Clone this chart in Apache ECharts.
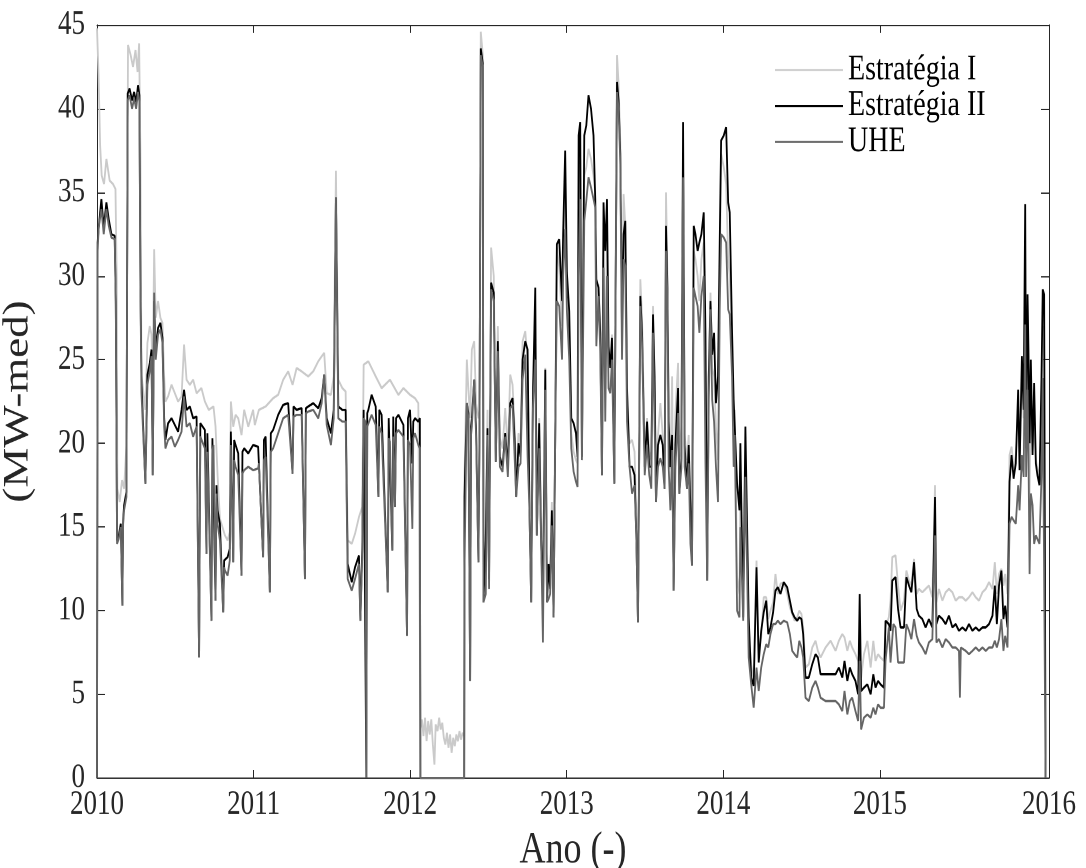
<!DOCTYPE html>
<html>
<head>
<meta charset="utf-8">
<script src="https://cdn.jsdelivr.net/npm/echarts@6/dist/echarts.min.js"></script>
<style>html,body{margin:0;padding:0;background:#fff;overflow:hidden}#c{position:absolute;left:0;top:0;width:1086px;height:694.4px;transform:scaleY(1.25);transform-origin:0 0}</style>
</head>
<body>
<div id="c"></div>
<script>
// Series names
const seriesNames = ['Estratégia I', 'Estratégia II', 'UHE'];
// x tick values (decimal year) and tick labels
const xTickValues = [2010, 2011, 2012, 2013, 2014, 2015, 2016.08];
const xTickLabels = ['2010', '2011', '2012', '2013', '2014', '2015', '2016'];
const xMin = 2010, xMax = 2016.08;
const yMin = 0, yMax = 45, yStep = 5;

// Estratégia I  [decimal year, MW-med]
const estrategiaI = [
[2010.000,44.8],[2010.010,42.0],[2010.020,37.8],[2010.030,36.0],[2010.045,35.5],[2010.060,37.0],[2010.081,35.7],[2010.102,35.5],[2010.118,35.2],[2010.126,29.8],[2010.130,17.3],[2010.145,16.5],[2010.160,17.8],[2010.173,17.3],[2010.188,19.9],[2010.198,43.8],[2010.215,43.2],[2010.230,42.5],[2010.246,43.5],[2010.259,42.2],[2010.269,43.9],[2010.277,37.5],[2010.284,24.1],[2010.294,24.0],[2010.309,22.0],[2010.322,26.0],[2010.337,27.0],[2010.348,26.5],[2010.356,24.0],[2010.365,31.6],[2010.375,27.5],[2010.390,28.5],[2010.405,27.5],[2010.418,27.2],[2010.429,24.0],[2010.437,22.5],[2010.454,22.8],[2010.476,23.5],[2010.497,23.0],[2010.518,22.5],[2010.540,22.8],[2010.556,25.9],[2010.572,23.8],[2010.593,23.5],[2010.614,23.8],[2010.636,23.0],[2010.667,23.3],[2010.689,22.5],[2010.714,22.0],[2010.744,22.2],[2010.757,21.0],[2010.770,18.1],[2010.785,15.5],[2010.817,14.5],[2010.834,14.2],[2010.848,14.7],[2010.855,22.5],[2010.870,21.0],[2010.885,21.7],[2010.902,21.5],[2010.923,20.5],[2010.940,22.0],[2010.966,21.0],[2010.997,22.0],
[2011.008,21.1],[2011.034,22.0],[2011.077,22.2],[2011.125,22.7],[2011.157,22.9],[2011.189,23.8],[2011.221,24.3],[2011.249,23.5],[2011.275,24.5],[2011.307,24.3],[2011.349,24.0],[2011.381,24.3],[2011.413,24.9],[2011.435,25.2],[2011.451,25.4],[2011.467,23.0],[2011.494,22.9],[2011.512,24.0],[2011.526,36.3],[2011.541,23.8],[2011.567,23.3],[2011.588,23.1],[2011.601,14.2],[2011.627,14.0],[2011.648,14.6],[2011.673,15.6],[2011.694,16.2],[2011.703,24.7],[2011.733,24.9],[2011.754,24.5],[2011.780,24.0],[2011.818,23.3],[2011.871,23.8],[2011.925,22.9],[2011.957,23.3],[2011.999,22.9],[2012.031,22.7],[2012.052,22.4],[2012.062,22.4],
[2012.066,3.0],[2012.075,3.5],[2012.085,2.5],[2012.095,3.6],[2012.105,2.2],[2012.115,3.4],[2012.125,2.6],[2012.135,3.5],[2012.145,2.0],[2012.155,0.8],[2012.163,3.2],[2012.175,2.8],[2012.185,3.6],[2012.195,2.9],[2012.205,3.3],[2012.215,2.4],[2012.225,2.0],[2012.235,2.7],[2012.245,1.8],[2012.255,2.6],[2012.265,1.5],[2012.275,2.4],[2012.285,1.9],[2012.295,2.6],[2012.305,2.2],[2012.315,2.8],[2012.325,2.3],[2012.335,2.7],[2012.345,2.5],
[2012.347,18.0],[2012.362,25.0],[2012.372,23.2],[2012.383,21.5],[2012.394,25.6],[2012.409,26.1],[2012.421,22.4],[2012.436,21.5],[2012.443,21.8],[2012.451,44.6],[2012.464,43.2],[2012.468,11.5],[2012.483,15.0],[2012.494,22.0],[2012.504,13.0],[2012.517,31.7],[2012.534,30.0],[2012.547,19.5],[2012.560,27.0],[2012.573,20.3],[2012.590,19.7],[2012.607,22.1],[2012.624,19.5],[2012.639,24.1],[2012.654,23.5],[2012.667,21.0],[2012.677,18.0],[2012.692,20.6],[2012.705,20.0],[2012.718,26.1],[2012.735,26.7],[2012.750,25.0],[2012.762,17.0],[2012.773,12.0],[2012.784,23.5],[2012.799,28.0],[2012.809,16.0],[2012.824,21.5],[2012.837,15.0],[2012.848,10.0],[2012.863,24.5],[2012.874,12.0],[2012.884,12.5],[2012.894,12.0],[2012.905,16.5],[2012.916,11.0],[2012.927,22.0],[2012.937,31.7],[2012.952,30.5],[2012.970,27.0],[2012.977,31.5],[2012.990,35.0],
[2013.001,29.5],[2013.016,26.5],[2013.029,20.6],[2013.044,19.5],[2013.059,19.0],[2013.069,18.8],[2013.076,34.0],[2013.086,37.0],[2013.097,20.0],[2013.112,36.0],[2013.125,36.5],[2013.139,37.6],[2013.155,37.0],[2013.171,36.0],[2013.182,35.0],[2013.189,28.0],[2013.203,29.5],[2013.214,27.0],[2013.225,19.0],[2013.235,33.0],[2013.246,24.0],[2013.257,32.5],[2013.267,25.0],[2013.278,24.5],[2013.289,26.5],[2013.304,19.0],[2013.321,43.2],[2013.331,41.5],[2013.342,38.0],[2013.353,27.0],[2013.363,34.9],[2013.374,33.0],[2013.385,23.0],[2013.401,20.0],[2013.417,20.2],[2013.433,19.5],[2013.444,16.0],[2013.455,11.0],[2013.470,29.8],[2013.481,27.5],[2013.498,19.5],[2013.513,21.5],[2013.527,19.5],[2013.540,19.0],[2013.551,28.2],[2013.561,24.0],[2013.570,18.0],[2013.583,20.5],[2013.598,22.4],[2013.613,20.5],[2013.625,19.0],[2013.634,35.0],[2013.643,30.0],[2013.651,21.0],[2013.662,18.5],[2013.673,24.0],[2013.683,13.0],[2013.694,21.8],[2013.711,24.8],[2013.719,19.0],[2013.732,21.0],[2013.743,36.5],[2013.753,20.5],[2013.768,19.0],[2013.779,20.5],[2013.790,16.0],[2013.800,14.0],[2013.811,31.5],[2013.822,31.0],[2013.836,30.0],[2013.847,28.5],[2013.860,31.0],[2013.875,32.0],[2013.886,21.0],[2013.897,13.5],[2013.907,24.0],[2013.918,29.0],[2013.929,24.5],[2013.941,24.0],[2013.953,21.0],[2013.966,19.0],[2013.977,30.0],[2013.986,37.3],
[2014.003,36.5],[2014.018,35.5],[2014.031,31.0],[2014.041,30.0],[2014.056,26.0],[2014.066,21.0],[2014.073,22.0],[2014.088,12.0],[2014.103,11.0],[2014.109,17.0],[2014.127,10.5],[2014.141,19.5],[2014.162,8.5],[2014.178,6.8],[2014.194,5.8],[2014.212,13.0],[2014.226,7.5],[2014.242,8.4],[2014.258,10.8],[2014.274,10.8],[2014.287,9.5],[2014.301,10.0],[2014.318,10.5],[2014.333,12.2],[2014.348,11.0],[2014.365,11.6],[2014.386,11.7],[2014.408,11.0],[2014.425,10.2],[2014.440,9.8],[2014.455,9.4],[2014.472,9.6],[2014.485,10.0],[2014.499,9.8],[2014.510,9.0],[2014.525,6.6],[2014.546,6.8],[2014.568,7.8],[2014.589,8.2],[2014.604,7.6],[2014.621,7.2],[2014.653,7.8],[2014.685,8.2],[2014.717,7.6],[2014.738,8.2],[2014.760,8.6],[2014.774,8.4],[2014.792,7.6],[2014.808,8.2],[2014.823,7.8],[2014.844,7.4],[2014.861,7.0],[2014.880,6.0],[2014.898,7.4],[2014.920,8.2],[2014.941,6.6],[2014.958,8.2],[2014.972,7.0],[2014.988,7.4],
[2015.004,7.2],[2015.026,7.0],[2015.036,9.0],[2015.057,9.6],[2015.068,10.6],[2015.079,13.2],[2015.086,13.3],[2015.100,13.3],[2015.116,11.5],[2015.132,10.0],[2015.154,10.6],[2015.169,12.4],[2015.186,11.8],[2015.201,11.5],[2015.218,13.1],[2015.235,11.0],[2015.249,11.3],[2015.271,11.1],[2015.292,11.3],[2015.313,11.5],[2015.335,10.8],[2015.352,17.5],[2015.361,10.5],[2015.377,11.3],[2015.399,10.6],[2015.420,11.1],[2015.441,11.3],[2015.463,11.1],[2015.484,10.6],[2015.505,10.8],[2015.527,10.8],[2015.548,10.6],[2015.569,10.8],[2015.591,11.1],[2015.612,10.8],[2015.633,10.6],[2015.655,11.1],[2015.676,11.3],[2015.697,11.7],[2015.719,11.3],[2015.734,12.9],[2015.747,11.0],[2015.761,12.2],[2015.776,12.5],[2015.789,11.5],[2015.800,12.2],[2015.815,11.0],[2015.828,19.3],[2015.841,19.8],[2015.854,18.5],[2015.868,19.3],[2015.883,22.5],[2015.892,19.0],[2015.907,24.0],[2015.918,21.5],[2015.928,31.0],[2015.934,20.0],[2015.943,27.0],[2015.949,24.0],[2015.956,17.0],[2015.964,23.0],[2015.975,19.5],[2015.985,21.0],[2015.996,19.0],[2016.006,18.5],[2016.019,18.0],[2016.032,22.0],[2016.040,27.0],[2016.049,26.5],[2016.058,0]
];

// Estratégia II
const estrategiaII = [
[2010.000,0],[2010.004,32.0],[2010.011,32.9],[2010.028,34.6],[2010.043,32.9],[2010.060,34.4],[2010.075,33.4],[2010.092,32.5],[2010.113,32.4],[2010.120,28.5],[2010.128,14.2],[2010.139,14.5],[2010.152,15.2],[2010.162,10.3],[2010.167,15.4],[2010.173,16.3],[2010.188,17.1],[2010.196,40.9],[2010.208,41.2],[2010.224,40.5],[2010.237,41.0],[2010.250,40.4],[2010.262,41.4],[2010.271,40.8],[2010.277,29.8],[2010.284,23.8],[2010.294,21.2],[2010.309,17.6],[2010.322,24.1],[2010.337,24.8],[2010.348,25.6],[2010.356,18.1],[2010.365,28.5],[2010.375,25.6],[2010.390,26.9],[2010.405,27.2],[2010.418,26.3],[2010.429,21.5],[2010.437,20.2],[2010.454,21.2],[2010.476,21.5],[2010.497,21.1],[2010.518,20.7],[2010.540,22.0],[2010.556,23.2],[2010.572,22.0],[2010.593,22.2],[2010.614,21.5],[2010.636,21.6],[2010.652,7.2],[2010.660,21.2],[2010.667,21.2],[2010.689,20.8],[2010.699,13.4],[2010.705,20.6],[2010.714,20.7],[2010.731,9.4],[2010.737,20.3],[2010.744,20.4],[2010.757,10.6],[2010.763,17.5],[2010.770,16.0],[2010.785,15.2],[2010.806,9.9],[2010.812,13.0],[2010.817,12.9],[2010.834,13.2],[2010.848,13.7],[2010.855,20.7],[2010.870,12.9],[2010.876,20.2],[2010.885,19.9],[2010.902,19.4],[2010.923,12.1],[2010.929,19.5],[2010.940,19.7],[2010.966,19.4],[2010.997,19.9],
[2011.029,19.8],[2011.034,19.7],[2011.061,13.2],[2011.066,20.2],[2011.077,20.4],[2011.104,11.1],[2011.110,20.6],[2011.125,20.8],[2011.157,21.7],[2011.189,22.3],[2011.221,22.4],[2011.249,18.2],[2011.255,22.2],[2011.275,22.0],[2011.307,22.1],[2011.328,11.9],[2011.334,22.1],[2011.349,22.2],[2011.381,22.4],[2011.413,22.1],[2011.435,22.7],[2011.451,24.1],[2011.467,21.5],[2011.494,20.6],[2011.512,22.0],[2011.526,34.7],[2011.541,22.2],[2011.567,22.0],[2011.588,22.0],[2011.601,12.8],[2011.627,11.7],[2011.648,12.6],[2011.673,13.3],[2011.682,9.4],[2011.694,13.7],[2011.703,22.0],[2011.714,22.0],[2011.720,0],[2011.726,21.8],[2011.733,22.0],[2011.754,22.9],[2011.780,22.2],[2011.797,16.8],[2011.803,22.0],[2011.818,21.7],[2011.857,11.1],[2011.863,21.5],[2011.871,21.5],[2011.886,13.6],[2011.892,21.6],[2011.903,16.2],[2011.910,21.5],[2011.925,21.7],[2011.957,21.1],[2011.980,8.5],[2011.986,21.5],[2011.999,22.0],[2012.014,18.8],[2012.020,21.3],[2012.031,21.5],[2012.052,21.3],[2012.062,21.5],[2012.065,0],[2012.345,0],
[2012.347,16.8],[2012.362,22.4],[2012.372,21.8],[2012.383,5.8],[2012.389,21.0],[2012.394,21.5],[2012.409,23.8],[2012.421,20.9],[2012.436,12.9],[2012.443,20.9],[2012.451,43.6],[2012.464,42.7],[2012.468,10.5],[2012.483,14.2],[2012.494,20.9],[2012.504,11.9],[2012.517,29.6],[2012.534,29.0],[2012.547,18.9],[2012.560,26.1],[2012.573,19.2],[2012.590,18.6],[2012.607,20.6],[2012.624,18.6],[2012.639,22.4],[2012.654,22.7],[2012.667,20.3],[2012.677,16.8],[2012.692,20.0],[2012.705,19.2],[2012.718,25.0],[2012.735,26.1],[2012.750,25.6],[2012.762,16.0],[2012.773,10.5],[2012.784,22.7],[2012.799,29.3],[2012.809,14.5],[2012.824,21.2],[2012.837,13.9],[2012.848,10.5],[2012.863,24.4],[2012.874,10.5],[2012.884,12.8],[2012.894,11.3],[2012.905,16.0],[2012.916,9.6],[2012.927,20.9],[2012.937,31.9],[2012.952,32.2],[2012.970,28.5],[2012.977,32.5],[2012.990,37.5],
[2013.001,30.2],[2013.016,27.9],[2013.029,21.5],[2013.044,21.2],[2013.059,20.6],[2013.069,19.2],[2013.076,38.4],[2013.086,39.2],[2013.097,19.2],[2013.112,38.4],[2013.125,39.0],[2013.139,40.8],[2013.155,40.0],[2013.171,38.4],[2013.182,34.6],[2013.189,29.8],[2013.203,29.3],[2013.214,26.6],[2013.225,18.1],[2013.235,34.4],[2013.246,31.5],[2013.257,34.6],[2013.267,25.8],[2013.278,24.5],[2013.289,26.3],[2013.304,17.6],[2013.321,41.6],[2013.331,40.5],[2013.342,37.3],[2013.353,26.6],[2013.363,32.5],[2013.374,33.3],[2013.385,23.3],[2013.401,18.6],[2013.417,18.6],[2013.433,18.1],[2013.444,14.6],[2013.455,9.3],[2013.470,28.8],[2013.481,26.6],[2013.498,18.6],[2013.513,21.3],[2013.527,18.6],[2013.540,18.6],[2013.551,27.7],[2013.561,24.0],[2013.570,16.5],[2013.583,19.9],[2013.598,20.5],[2013.613,19.9],[2013.625,17.3],[2013.634,33.0],[2013.643,29.3],[2013.651,21.3],[2013.662,18.6],[2013.673,20.5],[2013.683,11.2],[2013.694,19.9],[2013.711,23.3],[2013.719,17.0],[2013.732,19.1],[2013.743,39.2],[2013.753,19.9],[2013.768,17.3],[2013.779,19.9],[2013.790,16.0],[2013.800,12.7],[2013.811,33.0],[2013.822,32.5],[2013.836,31.5],[2013.847,32.0],[2013.860,32.5],[2013.875,33.8],[2013.886,26.6],[2013.897,11.8],[2013.907,24.0],[2013.918,28.5],[2013.929,25.3],[2013.941,26.6],[2013.953,22.4],[2013.966,24.0],[2013.977,32.0],[2013.986,38.1],
[2014.003,38.4],[2014.018,38.9],[2014.031,34.4],[2014.041,33.8],[2014.056,26.6],[2014.066,22.6],[2014.073,22.7],[2014.088,17.6],[2014.103,16.0],[2014.109,20.0],[2014.127,9.6],[2014.141,21.0],[2014.162,9.6],[2014.178,6.0],[2014.194,5.5],[2014.212,12.6],[2014.226,6.9],[2014.242,8.8],[2014.258,9.9],[2014.274,10.6],[2014.287,8.6],[2014.301,9.0],[2014.318,9.9],[2014.333,11.2],[2014.348,11.4],[2014.365,11.0],[2014.386,11.7],[2014.408,11.4],[2014.425,10.6],[2014.440,9.9],[2014.455,9.6],[2014.472,9.4],[2014.485,9.6],[2014.499,9.5],[2014.510,8.6],[2014.525,6.0],[2014.546,6.0],[2014.568,6.8],[2014.589,7.4],[2014.604,7.2],[2014.621,6.2],[2014.653,6.2],[2014.685,6.2],[2014.717,6.2],[2014.738,6.6],[2014.760,6.0],[2014.774,7.0],[2014.792,5.8],[2014.808,6.6],[2014.823,6.2],[2014.844,5.8],[2014.861,5.0],[2014.871,11.0],[2014.880,5.2],[2014.898,5.4],[2014.920,5.6],[2014.941,5.0],[2014.958,6.2],[2014.972,5.4],[2014.988,5.8],
[2015.004,5.6],[2015.026,5.4],[2015.036,9.4],[2015.057,9.2],[2015.068,8.8],[2015.079,11.8],[2015.086,11.7],[2015.100,12.0],[2015.116,10.1],[2015.132,9.0],[2015.154,9.0],[2015.169,12.0],[2015.186,11.5],[2015.201,11.1],[2015.218,12.9],[2015.235,10.1],[2015.249,9.7],[2015.271,9.5],[2015.292,9.0],[2015.313,9.5],[2015.335,9.0],[2015.352,16.8],[2015.361,9.2],[2015.377,9.7],[2015.399,9.5],[2015.420,9.2],[2015.441,9.7],[2015.463,9.0],[2015.484,9.2],[2015.505,8.8],[2015.527,9.0],[2015.548,8.8],[2015.569,9.2],[2015.591,8.8],[2015.612,9.0],[2015.633,8.8],[2015.655,9.0],[2015.676,9.0],[2015.697,9.2],[2015.719,9.7],[2015.734,11.5],[2015.747,9.2],[2015.761,11.5],[2015.776,12.4],[2015.789,9.5],[2015.800,10.3],[2015.815,9.0],[2015.828,17.7],[2015.841,19.3],[2015.854,17.9],[2015.868,18.8],[2015.883,23.2],[2015.892,18.4],[2015.907,25.2],[2015.918,22.0],[2015.928,34.3],[2015.934,19.7],[2015.943,28.9],[2015.949,25.5],[2015.956,20.0],[2015.964,25.0],[2015.975,19.3],[2015.985,23.6],[2015.996,18.8],[2016.006,18.1],[2016.019,17.5],[2016.032,23.9],[2016.040,29.2],[2016.049,28.9],[2016.058,0]
];

// UHE
const uhe = [
[2010.000,0],[2010.004,31.5],[2010.011,32.9],[2010.028,34.0],[2010.043,32.5],[2010.060,34.0],[2010.075,33.0],[2010.092,32.3],[2010.113,32.2],[2010.120,28.3],[2010.128,14.0],[2010.139,14.3],[2010.152,15.0],[2010.162,10.3],[2010.167,15.2],[2010.173,16.0],[2010.188,16.8],[2010.196,40.5],[2010.208,40.8],[2010.224,40.0],[2010.237,40.6],[2010.250,40.0],[2010.262,41.0],[2010.271,40.4],[2010.277,29.5],[2010.284,23.0],[2010.294,20.8],[2010.309,17.6],[2010.322,23.5],[2010.337,24.3],[2010.348,25.2],[2010.356,18.1],[2010.365,29.0],[2010.375,25.0],[2010.390,26.5],[2010.405,26.8],[2010.418,26.0],[2010.429,21.0],[2010.437,19.7],[2010.454,20.2],[2010.476,20.4],[2010.497,19.8],[2010.518,20.2],[2010.540,20.7],[2010.556,22.8],[2010.572,21.0],[2010.593,21.2],[2010.614,20.4],[2010.636,21.0],[2010.652,7.2],[2010.660,20.4],[2010.667,20.4],[2010.689,19.7],[2010.699,13.4],[2010.705,19.5],[2010.714,19.4],[2010.731,9.4],[2010.737,19.6],[2010.744,19.9],[2010.757,10.6],[2010.763,17.0],[2010.770,15.2],[2010.785,14.2],[2010.806,9.9],[2010.812,12.6],[2010.817,12.4],[2010.834,12.1],[2010.848,13.0],[2010.855,19.9],[2010.870,12.9],[2010.876,19.0],[2010.885,18.6],[2010.902,18.1],[2010.923,12.1],[2010.929,18.2],[2010.940,18.4],[2010.966,18.6],[2010.997,18.4],
[2011.029,18.5],[2011.034,18.8],[2011.061,13.2],[2011.066,19.0],[2011.077,19.2],[2011.104,11.1],[2011.110,19.5],[2011.125,19.7],[2011.157,20.6],[2011.189,21.5],[2011.221,21.7],[2011.249,18.2],[2011.255,21.6],[2011.275,21.7],[2011.307,21.7],[2011.328,11.9],[2011.334,21.8],[2011.349,21.9],[2011.381,22.0],[2011.413,21.5],[2011.435,22.4],[2011.451,24.1],[2011.467,21.1],[2011.494,19.9],[2011.512,21.5],[2011.526,34.7],[2011.541,21.5],[2011.567,21.3],[2011.588,21.3],[2011.601,11.9],[2011.627,11.2],[2011.648,11.9],[2011.673,12.8],[2011.682,9.4],[2011.694,13.2],[2011.703,21.5],[2011.714,21.3],[2011.720,0],[2011.726,21.0],[2011.733,21.1],[2011.754,21.7],[2011.780,21.1],[2011.797,16.8],[2011.803,21.0],[2011.818,20.6],[2011.857,11.1],[2011.863,20.3],[2011.871,20.1],[2011.886,13.6],[2011.892,20.4],[2011.903,16.2],[2011.910,20.6],[2011.925,20.8],[2011.957,20.4],[2011.980,8.5],[2011.986,20.2],[2011.999,19.9],[2012.014,14.9],[2012.020,20.3],[2012.031,20.6],[2012.052,19.9],[2012.062,19.7],[2012.065,0],[2012.345,0],
[2012.347,12.5],[2012.362,22.4],[2012.372,21.5],[2012.383,5.8],[2012.389,20.5],[2012.394,21.0],[2012.409,23.8],[2012.421,20.5],[2012.436,12.9],[2012.443,20.5],[2012.451,43.2],[2012.464,42.5],[2012.468,10.5],[2012.483,11.0],[2012.494,20.5],[2012.504,11.3],[2012.517,29.2],[2012.534,28.5],[2012.547,18.9],[2012.560,25.5],[2012.573,18.6],[2012.590,18.3],[2012.607,20.4],[2012.624,18.0],[2012.639,22.1],[2012.654,22.3],[2012.667,19.2],[2012.677,16.8],[2012.692,18.6],[2012.705,18.8],[2012.718,23.8],[2012.735,25.3],[2012.750,19.2],[2012.762,16.0],[2012.773,10.5],[2012.784,22.1],[2012.799,25.0],[2012.809,14.5],[2012.824,19.7],[2012.837,13.9],[2012.848,8.1],[2012.863,23.2],[2012.874,10.5],[2012.884,10.7],[2012.894,11.0],[2012.905,15.1],[2012.916,9.6],[2012.927,20.9],[2012.937,28.5],[2012.952,28.2],[2012.970,25.0],[2012.977,30.0],[2012.990,32.8],
[2013.001,27.9],[2013.016,25.0],[2013.029,19.7],[2013.044,18.3],[2013.059,17.7],[2013.069,17.4],[2013.076,30.0],[2013.086,34.6],[2013.097,19.0],[2013.112,33.3],[2013.125,34.5],[2013.139,35.9],[2013.155,35.3],[2013.171,34.6],[2013.182,34.1],[2013.189,25.8],[2013.203,28.8],[2013.214,25.5],[2013.225,18.1],[2013.235,30.5],[2013.246,21.3],[2013.257,30.0],[2013.267,23.3],[2013.278,23.0],[2013.289,25.0],[2013.304,17.6],[2013.321,41.0],[2013.331,40.0],[2013.342,36.8],[2013.353,25.0],[2013.363,31.0],[2013.374,30.6],[2013.385,21.3],[2013.401,18.6],[2013.417,17.0],[2013.433,17.5],[2013.444,14.6],[2013.455,9.3],[2013.470,28.2],[2013.481,26.0],[2013.498,18.1],[2013.513,19.9],[2013.527,18.1],[2013.540,17.3],[2013.551,26.6],[2013.561,21.3],[2013.570,16.5],[2013.583,18.6],[2013.598,19.1],[2013.613,18.6],[2013.625,17.3],[2013.634,31.5],[2013.643,28.8],[2013.651,18.6],[2013.662,16.0],[2013.673,19.6],[2013.683,11.2],[2013.694,18.6],[2013.711,21.8],[2013.719,17.0],[2013.732,18.5],[2013.743,35.9],[2013.753,18.6],[2013.768,17.3],[2013.779,18.8],[2013.790,14.0],[2013.800,12.7],[2013.811,29.3],[2013.822,28.8],[2013.836,28.2],[2013.847,26.6],[2013.860,28.8],[2013.875,30.0],[2013.886,18.8],[2013.897,11.8],[2013.907,22.6],[2013.918,28.0],[2013.929,22.6],[2013.941,21.3],[2013.953,18.6],[2013.966,16.5],[2013.977,28.0],[2013.986,32.5],
[2014.003,32.3],[2014.018,32.0],[2014.031,28.0],[2014.041,27.7],[2014.056,24.0],[2014.066,18.6],[2014.073,20.5],[2014.088,10.0],[2014.103,9.6],[2014.109,15.0],[2014.127,9.4],[2014.141,18.0],[2014.162,7.2],[2014.178,5.6],[2014.194,4.2],[2014.212,6.6],[2014.226,5.2],[2014.242,6.6],[2014.258,7.4],[2014.274,8.0],[2014.287,7.8],[2014.301,8.6],[2014.318,9.2],[2014.333,9.2],[2014.348,9.4],[2014.365,9.2],[2014.386,9.4],[2014.408,9.3],[2014.425,8.6],[2014.440,7.6],[2014.455,7.4],[2014.472,7.2],[2014.485,8.2],[2014.499,7.8],[2014.510,7.2],[2014.525,4.8],[2014.546,4.6],[2014.568,5.4],[2014.589,5.8],[2014.604,5.4],[2014.621,4.8],[2014.653,4.6],[2014.685,4.6],[2014.717,4.6],[2014.738,4.4],[2014.760,4.0],[2014.774,5.2],[2014.792,3.8],[2014.808,4.6],[2014.823,4.8],[2014.844,4.0],[2014.861,3.4],[2014.871,7.0],[2014.880,2.9],[2014.898,3.6],[2014.920,3.8],[2014.941,3.6],[2014.958,4.2],[2014.972,3.8],[2014.988,4.4],
[2015.004,4.2],[2015.026,4.2],[2015.036,7.0],[2015.057,9.0],[2015.068,6.9],[2015.086,9.2],[2015.100,9.0],[2015.116,6.9],[2015.132,6.9],[2015.154,6.9],[2015.169,9.2],[2015.186,8.8],[2015.201,8.3],[2015.218,9.5],[2015.235,8.5],[2015.249,8.1],[2015.271,7.8],[2015.292,7.4],[2015.313,8.1],[2015.335,8.3],[2015.352,14.5],[2015.361,8.1],[2015.377,8.3],[2015.399,7.8],[2015.420,8.3],[2015.441,8.1],[2015.463,7.8],[2015.484,7.8],[2015.505,7.6],[2015.511,4.8],[2015.517,7.8],[2015.527,7.8],[2015.548,7.6],[2015.569,7.4],[2015.591,7.6],[2015.612,7.8],[2015.633,7.6],[2015.655,7.8],[2015.676,7.6],[2015.697,7.8],[2015.719,7.8],[2015.734,8.2],[2015.747,7.8],[2015.761,8.3],[2015.776,9.5],[2015.789,7.6],[2015.800,8.5],[2015.815,7.8],[2015.828,15.2],[2015.841,15.6],[2015.854,15.4],[2015.868,15.2],[2015.883,17.5],[2015.892,16.0],[2015.907,19.3],[2015.918,18.0],[2015.928,27.1],[2015.934,18.0],[2015.943,23.2],[2015.949,19.3],[2015.956,12.2],[2015.964,17.0],[2015.975,16.3],[2015.985,14.0],[2015.996,14.5],[2016.006,14.5],[2016.019,14.0],[2016.032,18.0],[2016.040,23.9],[2016.049,23.9],[2016.058,0]
];

const FONT = '"Liberation Serif", "Times New Roman", serif';
const AX = '#262626';
const SY = 1.25; // vertical stretch of the reference rendering
const W = 1086, H = 868 / SY;
const chart = echarts.init(document.getElementById('c'), null, {renderer: 'canvas', devicePixelRatio: 2, width: W, height: H});
const inner = xTickValues.slice(1, -1);
const xLabelFmt = v => {
  const i = xTickValues.findIndex(t => Math.abs(t - v) < 1e-6);
  return i >= 0 ? xTickLabels[i] : '';
};
chart.setOption({
  animation: false,
  backgroundColor: '#ffffff',
  grid: {left: 97, right: 37, top: 25 / SY, bottom: 90 / SY, containLabel: false, outerBoundsMode: 'none'},
  legend: {
    data: seriesNames,
    orient: 'vertical',
    left: 775, top: 70 / SY - 36 / SY / 2,
    itemWidth: 68, itemHeight: 1.6, itemGap: 0,
    icon: 'rect',
    textStyle: {fontFamily: FONT, fontSize: 28, color: '#000', lineHeight: 36 / SY, padding: 0},
    padding: 0
  },
  xAxis: [{
    type: 'value', min: xMin, max: xMax, position: 'bottom',
    axisLine: {show: true, onZero: false, lineStyle: {color: AX, width: 1}},
    axisTick: {show: true, inside: true, length: 8 / SY, customValues: inner, lineStyle: {color: AX}},
    axisLabel: {customValues: xTickValues, formatter: xLabelFmt, fontFamily: FONT, fontSize: 27, color: AX, margin: 8},
    splitLine: {show: false},
    name: 'Ano (-)', nameLocation: 'middle', nameGap: 40,
    nameTextStyle: {fontFamily: FONT, fontSize: 36, color: AX}
  }, {
    type: 'value', min: xMin, max: xMax, position: 'top',
    axisLine: {show: true, onZero: false, lineStyle: {color: AX, width: 1}},
    axisTick: {show: true, inside: true, length: 8 / SY, customValues: inner, lineStyle: {color: AX}},
    axisLabel: {show: false}, splitLine: {show: false}
  }],
  yAxis: [{
    type: 'value', min: yMin, max: yMax, interval: yStep, position: 'left',
    axisLine: {show: true, onZero: false, lineStyle: {color: AX, width: 1}},
    axisTick: {show: true, inside: true, length: 8, lineStyle: {color: AX}},
    axisLabel: {fontFamily: FONT, fontSize: 27, color: AX, margin: 12},
    splitLine: {show: false},
    name: '(MW-med)', nameLocation: 'middle', nameGap: 61, nameRotate: 90,
    nameTextStyle: {fontFamily: FONT, fontSize: 36, color: AX}
  }, {
    type: 'value', min: yMin, max: yMax, interval: yStep, position: 'right',
    axisLine: {show: true, onZero: false, lineStyle: {color: AX, width: 1}},
    axisTick: {show: true, inside: true, length: 8, lineStyle: {color: AX}},
    axisLabel: {show: false}, splitLine: {show: false}
  }],
  series: [
    {name: seriesNames[0], type: 'line', data: estrategiaI, showSymbol: false, symbol: 'none', lineStyle: {color: '#cacaca', width: 1.8}, itemStyle: {color: '#cacaca'}, z: 2},
    {name: seriesNames[1], type: 'line', data: estrategiaII, showSymbol: false, symbol: 'none', lineStyle: {color: '#000000', width: 1.8}, itemStyle: {color: '#000000'}, z: 3},
    {name: seriesNames[2], type: 'line', data: uhe, showSymbol: false, symbol: 'none', lineStyle: {color: '#656565', width: 1.8}, itemStyle: {color: '#656565'}, z: 4}
  ]
});
</script>
</body>
</html>
